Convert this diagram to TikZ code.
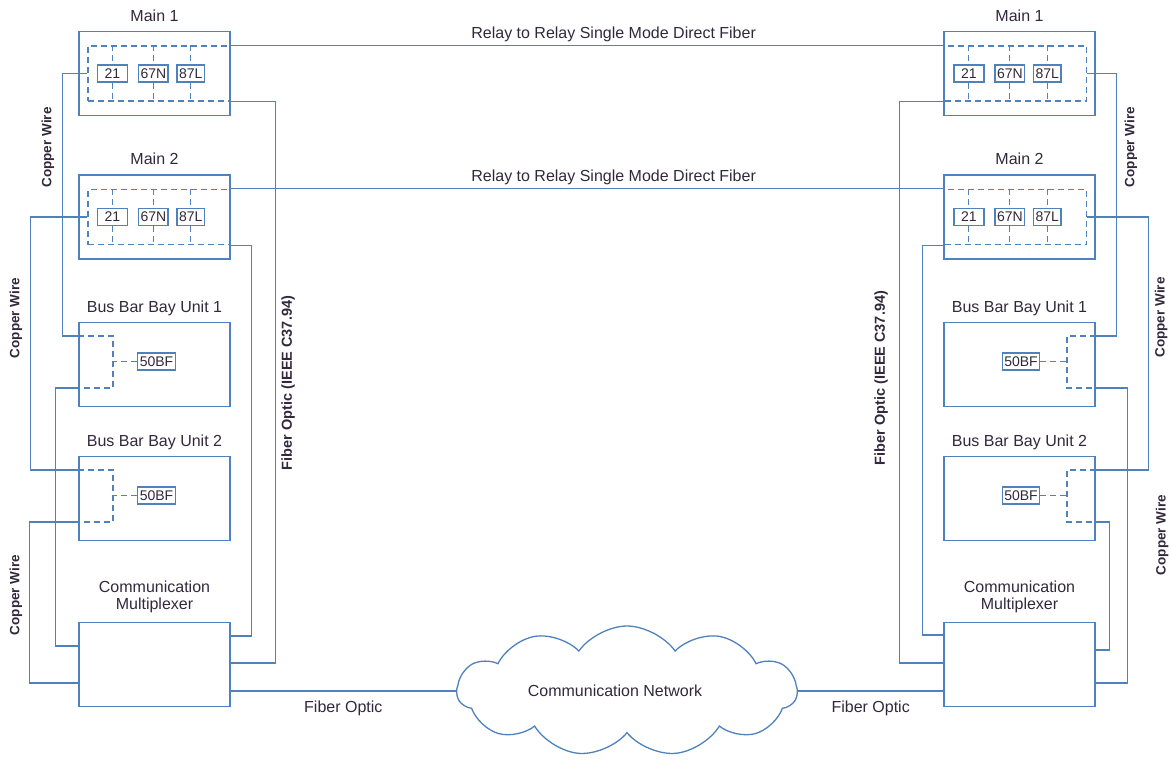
\documentclass[tikz,border=0pt]{standalone}
\usepackage{fontspec}
\setmainfont{Liberation Sans}
\usetikzlibrary{shapes.symbols}
\definecolor{wireblue}{RGB}{79,129,189}
\definecolor{txtgray}{RGB}{50,40,60}
\begin{document}
\begin{tikzpicture}[x=1pt, y=-1pt,
    unitbox/.style={rectangle, draw=wireblue, line width=1.6pt, minimum width=151, minimum height=84, inner sep=0pt},
    dashbox/.style={rectangle, draw=wireblue, line width=1.3pt, dash pattern=on 6pt off 4pt, minimum width=142, minimum height=55, inner sep=0pt},
    relay/.style={rectangle, draw=wireblue, fill=white, line width=1.4pt, font=\fontsize{14}{14}\selectfont, text=txtgray, inner xsep=2pt, inner ysep=1pt, minimum width=25, minimum height=17},
    wire/.style={draw=wireblue, line width=1.2pt},
    dwire/.style={wire, dash pattern=on 6pt off 4pt},
    boxtitle/.style={font=\fontsize{16}{17}\selectfont, text=txtgray, align=center},
    sidetext/.style={font=\bfseries\fontsize{13.5}{13.5}\selectfont, text=txtgray, rotate=90}]
    \useasboundingbox (0,0) rectangle (1171,766);

    % Main relays.
    \foreach \s/\x/\dx in {L/154.5/159, R/1019.5/1015.5}
        \foreach \m/\y in {1/73.5, 2/217} {
            \node[unitbox, label={[boxtitle, anchor=base, label distance=9.3pt]above:Main \m}] (M\m\s) at (\x,\y) {};
            \node[dashbox] (M\m\s-d) at (\dx,\y) {};
            \foreach \r/\rx/\w in {21/25/30, 67N/66/29, 87L/103.5/25} {
                \node[relay, minimum width=\w, xshift=\rx] (M\m\s-\r) at (M\m\s-d.west) {\r};
                \draw[dwire] (M\m\s-d.north -| M\m\s-\r) -- (M\m\s-\r.north)
                             (M\m\s-\r.south) -- (M\m\s-d.south -| M\m\s-\r);
            }
        }

    % Bus bar bay units.
    \foreach \s/\x/\e/\bx/\fx in {L/154.5/west/113/156.5, R/1019.5/east/1067/1021}
        \foreach \b/\y in {1/364.5, 2/498.5} {
            \node[unitbox, label={[boxtitle, anchor=base, label distance=9.3pt]above:Bus Bar Bay Unit \b}] (B\b\s) at (\x,\y) {};
            \node[relay] (B\b\s-bf) at (\fx,\y-3) {50BF};
            \coordinate (B\b\s-in) at (B\b\s.\e |- 0,\y-28.5);
            \coordinate (B\b\s-out) at (B\b\s.\e |- 0,\y+23.5);
            \draw[dwire] (B\b\s-in) -| (\bx,\y) |- (B\b\s-out);
            \draw[dwire] (B\b\s-bf.\e) -- (\bx,\y-3);
        }

    % Multiplexers.
    \foreach \s/\x in {L/154.5, R/1019.5}
        \node[unitbox, label={[boxtitle, anchor=south, label distance=5.6pt]above:Communication\\Multiplexer}] (X\s) at (\x,664.5) {};

    % Network.
    \node[cloud, cloud puffs=11, cloud puff arc=110, cloud ignores aspect, draw=wireblue, line width=1.3pt,
          minimum width=340, minimum height=130,
          label={[boxtitle, xshift=-12pt]center:Communication Network}] (net) at (627,691) {};

    % Relay to relay fiber.
    \draw[wire] (M1L-d.north east) -- node[boxtitle, above, pos=0.537] {Relay to Relay Single Mode Direct Fiber} (M1R-d.north west);
    \draw[wire] (M2L-d.north east) -- node[boxtitle, above, pos=0.537] {Relay to Relay Single Mode Direct Fiber} (M2R-d.north west);

    % Left copper wires.
    \draw[wire] (M1L-d.west) -- ++(-25,0) |- (B1L-in);
    \draw[wire] (B1L-out) -- ++(-23,0) |- (XL.west |- 0,646);
    \draw[wire] (M2L-d.west) -- ++(-57,0) |- (B2L-in);
    \draw[wire] (B2L-out) -- ++(-49,0) |- (XL.west |- 0,683);

    % Left fiber optic.
    \draw[wire] (M1L-d.south east) -- ++(45,0) |- (XL.east |- 0,663);
    \draw[wire] (M2L-d.south east) -- ++(21,0) |- (XL.east |- 0,636);

    % Right copper wires.
    \draw[wire] (M1R-d.east) -- ++(29,0) |- (B1R-in);
    \draw[wire] (B1R-out) -- ++(32,0) |- (XR.east |- 0,683);
    \draw[wire] (M2R-d.east) -- ++(61,0) |- (B2R-in);
    \draw[wire] (B2R-out) -- ++(14,0) |- (XR.east |- 0,650);

    % Right fiber optic.
    \draw[wire] (M1R-d.south west) -- ++(-44,0) |- (XR.west |- 0,663);
    \draw[wire] (M2R-d.south west) -- ++(-21,0) |- (XR.west |- 0,635);

    % Network connections.
    \draw[wire] (XL.east |- net.west) -- node[boxtitle, below=6pt] {Fiber Optic} (net.west);
    \draw[wire] (net.east) -- node[boxtitle, below=6pt] {Fiber Optic} (XR.west |- net.east);

    % Side labels.
    \node[sidetext] (cwL1) at (48,147.5) {Copper Wire};
    \node[sidetext] (cwL2) at (16,318) {Copper Wire};
    \node[sidetext] (cwL3) at (16,595) {Copper Wire};
    \node[sidetext] (cwR1) at (1131,147) {Copper Wire};
    \node[sidetext] (cwR2) at (1161,317.5) {Copper Wire};
    \node[sidetext] (cwR3) at (1162,535) {Copper Wire};
    \node[sidetext, font=\bfseries\fontsize{14.5}{14.5}\selectfont] (foL) at (288,383) {Fiber Optic (IEEE C37.94)};
    \node[sidetext, font=\bfseries\fontsize{14.5}{14.5}\selectfont] (foR) at (881,378) {Fiber Optic (IEEE C37.94)};
\end{tikzpicture}
\end{document}
